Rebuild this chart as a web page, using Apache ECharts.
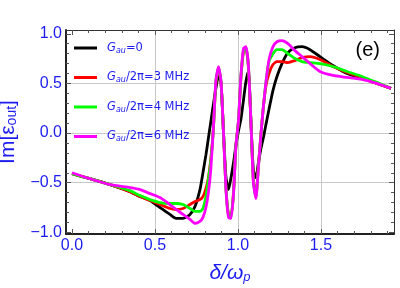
<!DOCTYPE html>
<html><head><meta charset="utf-8">
<script src="https://cdn.jsdelivr.net/npm/echarts@6/dist/echarts.min.js"></script>
<style>html,body{margin:0;padding:0;background:#fff}#c{width:400px;height:288px}</style>
</head><body><div id="c"></div>
<script>
// detuning delta/omega_p
const delta = [0.000,0.108,0.229,0.349,0.410,0.470,0.530,0.590,0.627,0.669,0.711,0.741,0.771,0.789,0.807,0.822,0.837,0.852,0.867,0.883,0.898,0.913,0.928,0.943,0.958,0.973,0.988,1.003,1.018,1.033,1.048,1.063,1.078,1.093,1.108,1.123,1.139,1.154,1.169,1.187,1.211,1.235,1.265,1.301,1.343,1.386,1.434,1.494,1.572,1.657,1.747,1.837,1.922];
// Im[eps_out] for G_au = 0
const imG0 = [-0.41,-0.46,-0.52,-0.59,-0.64,-0.68,-0.75,-0.82,-0.86,-0.86,-0.82,-0.74,-0.57,-0.40,-0.22,-0.05,0.12,0.29,0.45,0.58,0.50,0.00,-0.45,-0.57,-0.45,-0.30,-0.12,0.02,0.14,0.33,0.52,0.62,0.12,-0.38,-0.45,-0.30,-0.15,-0.04,0.09,0.24,0.43,0.57,0.70,0.81,0.86,0.87,0.84,0.77,0.68,0.60,0.55,0.50,0.45];
// G_au/2pi = 3 MHz
const imG3 = [-0.41,-0.46,-0.52,-0.59,-0.64,-0.68,-0.72,-0.76,-0.77,-0.76,-0.72,-0.69,-0.67,-0.64,-0.56,-0.45,-0.25,0.05,0.50,0.65,0.51,0.00,-0.56,-0.82,-0.83,-0.60,-0.12,0.12,0.56,0.82,0.85,0.66,0.12,-0.48,-0.64,-0.33,0.00,0.28,0.48,0.60,0.69,0.72,0.72,0.71,0.73,0.76,0.77,0.74,0.67,0.61,0.56,0.50,0.45];
// G_au/2pi = 4 MHz
const imG4 = [-0.41,-0.46,-0.52,-0.58,-0.63,-0.67,-0.70,-0.71,-0.71,-0.72,-0.76,-0.79,-0.79,-0.76,-0.64,-0.47,-0.27,0.04,0.52,0.66,0.51,0.00,-0.57,-0.83,-0.84,-0.61,-0.12,0.12,0.57,0.83,0.86,0.67,0.12,-0.49,-0.65,-0.34,0.00,0.28,0.52,0.72,0.80,0.84,0.84,0.80,0.75,0.72,0.71,0.70,0.67,0.62,0.57,0.51,0.45];
// G_au/2pi = 6 MHz
const imG6 = [-0.40,-0.46,-0.52,-0.55,-0.57,-0.61,-0.65,-0.72,-0.77,-0.82,-0.87,-0.91,-0.89,-0.85,-0.75,-0.60,-0.35,0.05,0.53,0.67,0.52,0.00,-0.58,-0.85,-0.86,-0.62,-0.12,0.12,0.58,0.85,0.87,0.68,0.12,-0.50,-0.66,-0.35,0.00,0.28,0.52,0.74,0.87,0.92,0.93,0.90,0.83,0.77,0.70,0.62,0.58,0.56,0.54,0.50,0.45];

const seriesNames = ['=0', '/2π=3 MHz', '/2π=4 MHz', '/2π=6 MHz'];
const seriesColors = ['#000000', '#ff0000', '#00ff00', '#ff00ff'];
const xTickLabels = [0, 0.5, 1.0, 1.5];
const yTickLabels = [-1.0, -0.5, 0.0, 0.5, 1.0];
const xGridVals = [0.5, 1.0, 1.5];
const yGridVals = [-0.5, 0.0, 0.5];
const xMinorTicks = [0,0.1,0.2,0.3,0.4,0.5,0.6,0.7,0.8,0.9,1.0,1.1,1.2,1.3,1.4,1.5,1.6,1.7,1.8,1.9];
const yMinorTicks = [-1.0,-0.9,-0.8,-0.7,-0.6,-0.5,-0.4,-0.3,-0.2,-0.1,0,0.1,0.2,0.3,0.4,0.5,0.6,0.7,0.8,0.9,1.0];
const XMIN = -0.036, XMAX = 1.94, YMIN = -1.017, YMAX = 1.038;

const BLUE = '#1c1cf0';
const FONT = 'Liberation Sans';
const LFONT = 'DejaVu Sans';

function baseAxis(type, pos, min, max, extra) {
  const a = {
    type: 'value', position: pos, min: min, max: max,
    axisLine: { show: false, onZero: false },
    axisTick: { show: false },
    axisLabel: { show: false },
    splitLine: { show: false }
  };
  return Object.assign(a, extra);
}

const xAxes = [
  baseAxis('x', 'bottom', XMIN, XMAX, {
    axisLine: { show: true, onZero: false, lineStyle: { color: '#222', width: 2 } },
    axisTick: { show: true, inside: true, length: 3, customValues: xMinorTicks, lineStyle: { color: '#555', width: 1 } },
    axisLabel: { show: true, customValues: xTickLabels, formatter: v => Number(v).toFixed(1), color: BLUE, fontSize: 16, fontFamily: FONT, margin: 4 },
    name: '{i|δ/ω}{s|p}', nameLocation: 'middle', nameGap: 28,
    nameTextStyle: { rich: {
      i: { fontSize: 21, fontStyle: 'italic', color: BLUE, fontFamily: FONT },
      s: { fontSize: 13, fontStyle: 'italic', color: BLUE, fontFamily: FONT, padding: [9, 0, 0, 0] }
    } }
  }),
  baseAxis('x', 'bottom', XMIN, XMAX, {
    axisTick: { show: true, inside: true, length: 5, customValues: xTickLabels, lineStyle: { color: '#555', width: 1 } }
  }),
  baseAxis('x', 'bottom', XMIN, XMAX, {
    axisTick: { show: false, customValues: xGridVals },
    splitLine: { show: true, lineStyle: { color: '#c8c8c8', width: 1 } }
  }),
  baseAxis('x', 'top', XMIN, XMAX, {
    axisLine: { show: true, onZero: false, lineStyle: { color: '#333', width: 1 } },
    axisTick: { show: true, inside: true, length: 3, customValues: xMinorTicks, lineStyle: { color: '#555', width: 1 } }
  }),
  baseAxis('x', 'top', XMIN, XMAX, {
    axisTick: { show: true, inside: true, length: 5, customValues: xTickLabels, lineStyle: { color: '#555', width: 1 } }
  })
];

const yAxes = [
  baseAxis('y', 'left', YMIN, YMAX, {
    axisLine: { show: true, onZero: false, lineStyle: { color: '#222', width: 2 } },
    axisTick: { show: true, inside: true, length: 3, customValues: yMinorTicks, lineStyle: { color: '#555', width: 1 } },
    axisLabel: { show: true, customValues: yTickLabels, formatter: v => (v < 0 ? '\u2212' : '') + Math.abs(Number(v)).toFixed(1), color: BLUE, fontSize: 16, fontFamily: FONT, margin: 4 },
    name: '{a|Im[ε}{s|out}{a|]}', nameLocation: 'middle', nameGap: 43,
    nameTextStyle: { rich: {
      a: { fontSize: 21, color: BLUE, fontFamily: FONT },
      s: { fontSize: 14, color: BLUE, fontFamily: FONT, padding: [9, 0, 0, 0] }
    } }
  }),
  baseAxis('y', 'left', YMIN, YMAX, {
    axisTick: { show: true, inside: true, length: 5, customValues: yTickLabels, lineStyle: { color: '#555', width: 1 } }
  }),
  baseAxis('y', 'left', YMIN, YMAX, {
    axisTick: { show: false, customValues: yGridVals },
    splitLine: { show: true, lineStyle: { color: '#c8c8c8', width: 1 } }
  }),
  baseAxis('y', 'right', YMIN, YMAX, {
    axisLine: { show: true, onZero: false, lineStyle: { color: '#333', width: 1 } },
    axisTick: { show: true, inside: true, length: 3, customValues: yMinorTicks, lineStyle: { color: '#555', width: 1 } }
  }),
  baseAxis('y', 'right', YMIN, YMAX, {
    axisTick: { show: true, inside: true, length: 5, customValues: yTickLabels, lineStyle: { color: '#555', width: 1 } }
  })
];

const allY = [imG0, imG3, imG4, imG6];
const series = allY.map((ys, k) => ({
  name: seriesNames[k],
  type: 'line',
  xAxisIndex: 0, yAxisIndex: 0,
  data: delta.map((d, i) => [d, ys[i]]),
  showSymbol: false, symbol: 'none',
  smooth: 0.2,
  lineStyle: { color: seriesColors[k], width: 2.8 },
  itemStyle: { color: seriesColors[k] },
  z: 3 + k
}));

const chart = echarts.init(document.getElementById('c'), null, { renderer: 'canvas' });
chart.setOption({
  animation: false,
  backgroundColor: '#ffffff',
  grid: { left: 66, right: 6, top: 30, bottom: 54, containLabel: false, outerBoundsMode: 'none' },
  title: { text: '(e)', right: 20, top: 40, padding: 0, textStyle: { fontSize: 20, fontWeight: 'normal', color: '#000', fontFamily: FONT } },
  legend: {
    orient: 'vertical', left: 74, top: 42, padding: 0,
    itemWidth: 23, itemHeight: 14, itemGap: 17,
    icon: 'path://M0,6 L23,6 L23,9 L0,9 Z',
    data: seriesNames,
    formatter: n => '{g|G}{s|au}{t|' + n + '}',
    textStyle: { fontSize: 11.5, fontFamily: LFONT, color: BLUE, padding: [0, 0, 0, 5], rich: {
      g: { fontSize: 11.5, fontStyle: 'italic', color: BLUE, fontFamily: LFONT, lineHeight: 14 },
      s: { fontSize: 8, fontStyle: 'italic', color: BLUE, fontFamily: LFONT, padding: [5, 0, 0, 0] },
      t: { fontSize: 11.5, color: BLUE, fontFamily: LFONT, lineHeight: 14 }
    } }
  },
  xAxis: xAxes,
  yAxis: yAxes,
  series: series
});
</script></body></html>
